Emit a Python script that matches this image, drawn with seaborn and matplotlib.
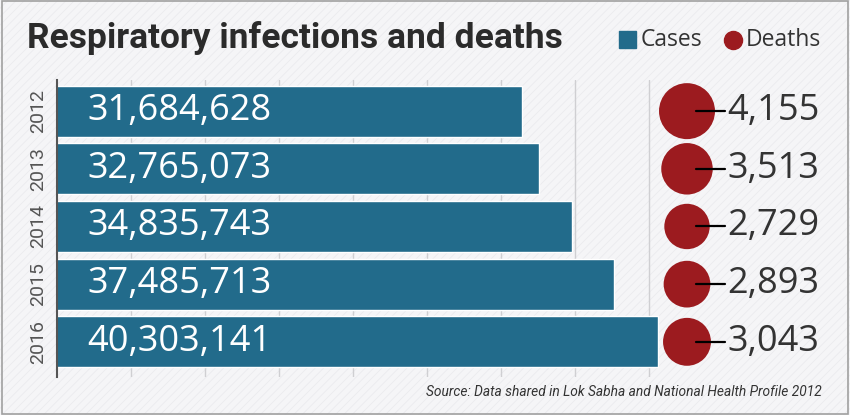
import numpy as np
import pandas as pd
import seaborn as sns
import matplotlib.pyplot as plt
from matplotlib.patches import Rectangle
from matplotlib.lines import Line2D

# data
years = ['2012', '2013', '2014', '2015', '2016']
cases = [31684628, 32765073, 34835743, 37485713, 40303141]
deaths = [4155, 3513, 2729, 2893, 3043]

bar_color = '#226b8b'
dot_color = '#9c1b1f'
text_dark = '#333333'
num_font = ['Open Sans', 'DejaVu Sans']

sns.set_theme(style='white')
plt.rcParams['font.family'] = ['Roboto', 'DejaVu Sans']
plt.rcParams['hatch.linewidth'] = 0.6

fig = plt.figure(figsize=(8.5, 4.15), dpi=100)
fig.patch.set_facecolor('#f5f5f7')
bg = Rectangle((0, 0), 1, 1, transform=fig.transFigure, facecolor='#f5f5f7',
               edgecolor='#ebebee', hatch='////', linewidth=0, zorder=-5)
fig.patches.append(bg)
fig.patches.append(Rectangle((0.002, 0.003), 0.996, 0.994, transform=fig.transFigure,
                             fill=False, edgecolor='#a0a0a0', linewidth=1.2, zorder=10))

W, H = 850, 415
left_px, right_px, top_px, bot_px = 57, 840, 80, 377
ax = fig.add_axes([left_px / W, (H - bot_px) / H, (right_px - left_px) / W, (bot_px - top_px) / H])
ax.set_facecolor('none')

# pixel scale of the original (value 0 sits left of the spine)
px_per_m = 15.73
zero_px = 24.0

def px_to_x(px):
    return (px - zero_px) / px_per_m * 1e6

df = pd.DataFrame({'year': years, 'cases': cases, 'deaths': deaths})
sns.barplot(data=df, x='cases', y='year', color=bar_color, width=0.884,
            saturation=1, ax=ax, zorder=2)

ax.set_xlim(px_to_x(left_px), px_to_x(right_px))
ax.set_ylim(4.61, -0.54)

# light vertical gridlines, every 74 px up to the circles
for gpx in np.arange(left_px + 74, 660, 74):
    ax.axvline(px_to_x(gpx), color='#cfcfd2', linewidth=1, zorder=0)

for s in ['top', 'right', 'bottom']:
    ax.spines[s].set_visible(False)
ax.spines['left'].set_color('#555555')
ax.spines['left'].set_linewidth(1.5)
ax.set_xticks([])
ax.set_xlabel('')
ax.set_ylabel('')
ax.tick_params(axis='y', length=0, pad=7)
ax.set_yticks(range(len(years)))
ax.set_yticklabels(years, rotation=90, va='center', fontsize=14, color='#555555')

# case labels inside bars
for i, c in enumerate(cases):
    ax.text(px_to_x(87), i, f'{c:,}', color='white', fontsize=26, family=num_font,
            va='center', ha='left', zorder=3)

# deaths bubbles (area proportional)
s_max = 1625
sizes = [s_max * d / max(deaths) for d in deaths]
cx = px_to_x(687)
ax.scatter([cx] * len(deaths), range(len(deaths)), s=sizes, color=dot_color,
           zorder=3, clip_on=False, linewidths=0)
for i, d in enumerate(deaths):
    ax.plot([px_to_x(696), px_to_x(725)], [i, i], color='black', linewidth=1.6, zorder=4)
    ax.text(px_to_x(727), i, f'{d:,}', color=text_dark, fontsize=26, family=num_font,
            va='center', ha='left', zorder=4)

# title and legend
fig.text(27 / W, 1 - 38 / H, 'Respiratory infections and deaths', fontsize=25.5,
         fontweight='bold', color='#2b2b2b', va='center', ha='left')
fig.patches.append(Rectangle((619 / W, 1 - 48 / H), 17 / W, 17 / H,
                             transform=fig.transFigure, color=bar_color))
fig.text(641 / W, 1 - 40 / H, 'Cases', fontsize=16.5, color=text_dark, va='center',
         family=num_font)
fig.add_artist(Line2D([733 / W], [1 - 40 / H], marker='o', markersize=13,
                      color=dot_color, transform=fig.transFigure))
fig.text(746 / W, 1 - 40 / H, 'Deaths', fontsize=16.5, color=text_dark, va='center',
         family=num_font)

fig.text(822 / W, 1 - 392 / H,
         'Source: Data shared in Lok Sabha and National Health Profile 2012',
         fontsize=9.9, style='italic', color=text_dark, ha='right', va='center')

fig.savefig('out.png', dpi=100, facecolor=fig.get_facecolor())
